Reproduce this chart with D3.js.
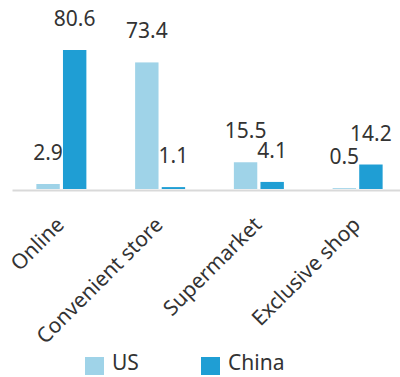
<!DOCTYPE html>
<html>
<head>
<meta charset="utf-8">
<script src="https://cdn.jsdelivr.net/npm/d3@7"></script>
<style>
body { margin: 0; background: #fff; }
svg { display: block; font-family: 'Noto Sans', sans-serif; }
</style>
</head>
<body>
<div id="chart"></div>
<script>
// chart data
var categories = ['Online', 'Convenient store', 'Supermarket', 'Exclusive shop'];
var seriesNames = ['US', 'China'];
var usValues = [2.9, 73.4, 15.5, 0.5];
var chinaValues = [80.6, 1.1, 4.1, 14.2];
var colors = ['#9fd3e8', '#1f9ed4'];

var width = 400, height = 377;
var baseY = 189;

var svg = d3.select('#chart').append('svg')
	.attr('width', width)
	.attr('height', height);

var x = d3.scaleBand()
	.domain(categories)
	.range([12, 407]);

var xSub = d3.scaleBand()
	.domain(seriesNames)
	.range([x.bandwidth() / 2 - 25, x.bandwidth() / 2 + 25])
	.paddingInner(0.12);

var y = d3.scaleLinear()
	.domain([0, 80.6])
	.range([baseY, 50]);

var rows = categories.map(function(c, i) {
	return { cat: c, values: [usValues[i], chinaValues[i]] };
});

var groups = svg.selectAll('g.grp')
	.data(rows)
	.enter()
	.append('g')
	.attr('class', 'grp')
	.attr('transform', function(d) { return 'translate(' + x(d.cat) + ',0)'; });

groups.selectAll('rect')
	.data(function(d) { return d.values.map(function(v, i) { return { s: seriesNames[i], v: v, i: i }; }); })
	.enter()
	.append('rect')
	.attr('x', function(d) { return xSub(d.s); })
	.attr('y', function(d) { return y(d.v); })
	.attr('width', xSub.bandwidth())
	.attr('height', function(d) { return baseY - y(d.v); })
	.style('fill', function(d) { return colors[d.i]; });

groups.selectAll('text')
	.data(function(d) { return d.values.map(function(v, i) { return { s: seriesNames[i], v: v }; }); })
	.enter()
	.append('text')
	.attr('x', function(d) { return xSub(d.s) + xSub.bandwidth() / 2; })
	.attr('y', function(d) { return y(d.v) - 24; })
	.attr('text-anchor', 'middle')
	.attr('font-size', '21px')
	.attr('fill', '#333')
	.text(function(d) { return d.v.toFixed(1); });

// x axis
var xAxis = svg.append('g')
	.attr('transform', 'translate(0,' + baseY + ')')
	.call(d3.axisBottom(x).tickSize(0).tickPadding(0));

xAxis.select('.domain')
	.attr('stroke', '#d9d9d9')
	.attr('stroke-width', 2)
	.attr('transform', 'translate(0,1)');

xAxis.selectAll('text')
	.attr('font-family', "'Noto Sans', sans-serif")
	.attr('font-size', '21px')
	.attr('fill', '#333')
	.attr('text-anchor', 'end')
	.attr('dy', 0)
	.attr('transform', 'translate(4,37) rotate(-45)');

// legend
var legend = svg.append('g');
var legendX = [85, 201];
seriesNames.forEach(function(s, i) {
	legend.append('rect')
		.attr('x', legendX[i])
		.attr('y', 357)
		.attr('width', 19)
		.attr('height', 18)
		.style('fill', colors[i]);
	legend.append('text')
		.attr('x', legendX[i] + 27)
		.attr('y', 370)
		.attr('font-size', '21px')
		.attr('fill', '#333')
		.text(s);
});
</script>
</body>
</html>
